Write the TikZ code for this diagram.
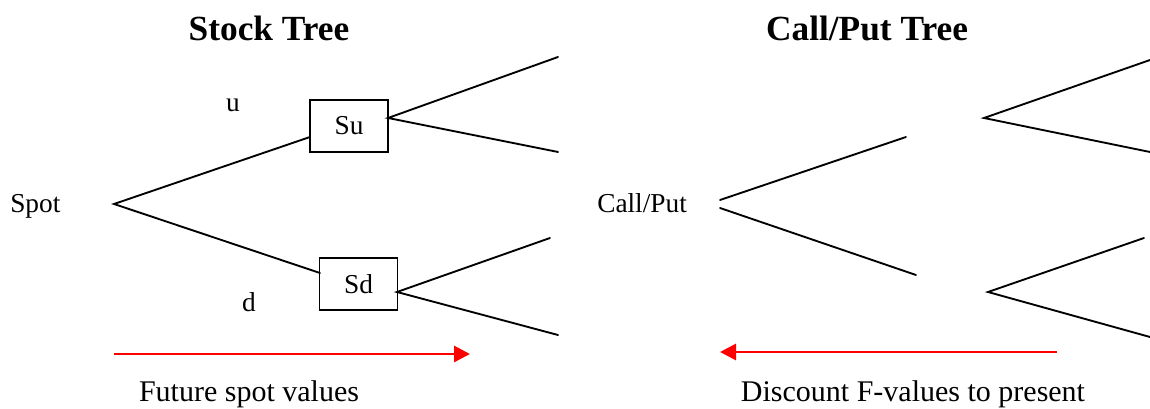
\documentclass[tikz,border=0pt]{standalone}
\usepackage{fontspec}
\setmainfont{Liberation Serif}
\usetikzlibrary{arrows.meta}
\begin{document}
\begin{tikzpicture}[x=0.75pt,y=-0.75pt,
  branch/.style={line width=1.4pt,line cap=round},
  flow/.style={red,line width=2.2pt,-{Triangle[length=12pt,width=12pt]}},
  lbl/.style={inner sep=0pt,font=\fontsize{20.5}{24}\selectfont},
  caption/.style={inner sep=0pt,font=\fontsize{22.5}{26}\selectfont},
  ttl/.style={inner sep=0pt,font=\fontsize{26.5}{30}\selectfont\bfseries},
  box/.style={draw,line width=1.1pt,minimum width=58.5pt,minimum height=39pt,inner sep=0pt,font=\fontsize{20.5}{24}\selectfont}]
\useasboundingbox (0,0) rectangle (1150,409);
% titles
\node[ttl,anchor=base] (t1) at (269,41) {Stock Tree};
\node[ttl,anchor=base] (t2) at (867,41) {Call/Put Tree};
% stock tree
\node[lbl,anchor=base west] (spot) at (10,213) {Spot};
\coordinate (sv) at (114,204);
\node[box] (su) at (349,126) {Su};
\node[box] (sd) at (358.5,284) {Sd};
\coordinate (suin) at (310,137);
\coordinate (suout) at (388,118);
\coordinate (sdin) at (320,273);
\coordinate (sdout) at (397,292);
\coordinate (uu) at (558,57);
\coordinate (ud) at (558,152);
\coordinate (du) at (550,238);
\coordinate (dd) at (558,335);
\draw[branch] (suin) -- (sv) -- (sdin);
\draw[branch] (uu) -- (suout) -- (ud);
\draw[branch] (du) -- (sdout) -- (dd);
\node[lbl,anchor=base] (u) at (233,112) {u};
\node[lbl,anchor=base] (d) at (249,312) {d};
\coordinate (fa) at (114,354);
\coordinate (fb) at (470,354);
\draw[flow] (fa) -- (fb);
\node[caption,anchor=base] (fut) at (249,402) {Future spot values};
% call/put tree
\node[lbl,anchor=base west] (cp) at (597,213) {Call/Put};
\coordinate (c1a) at (720,200);
\coordinate (c1b) at (906,137);
\coordinate (c2a) at (720,208);
\coordinate (c2b) at (916,275);
\draw[branch] (c1a) -- (c1b);
\draw[branch] (c2a) -- (c2b);
\coordinate (cu) at (984,118);
\coordinate (cuu) at (1150,60);
\coordinate (cud) at (1150,152);
\coordinate (cd) at (988,292);
\coordinate (cdu) at (1144,238);
\coordinate (cdd) at (1150,337);
\draw[branch] (cuu) -- (cu) -- (cud);
\draw[branch] (cdu) -- (cd) -- (cdd);
\coordinate (ga) at (1057,352);
\coordinate (gb) at (720,352);
\draw[flow] (ga) -- (gb);
\node[caption,anchor=base] (disc) at (913,402) {Discount F-values to present};
\end{tikzpicture}
\end{document}
